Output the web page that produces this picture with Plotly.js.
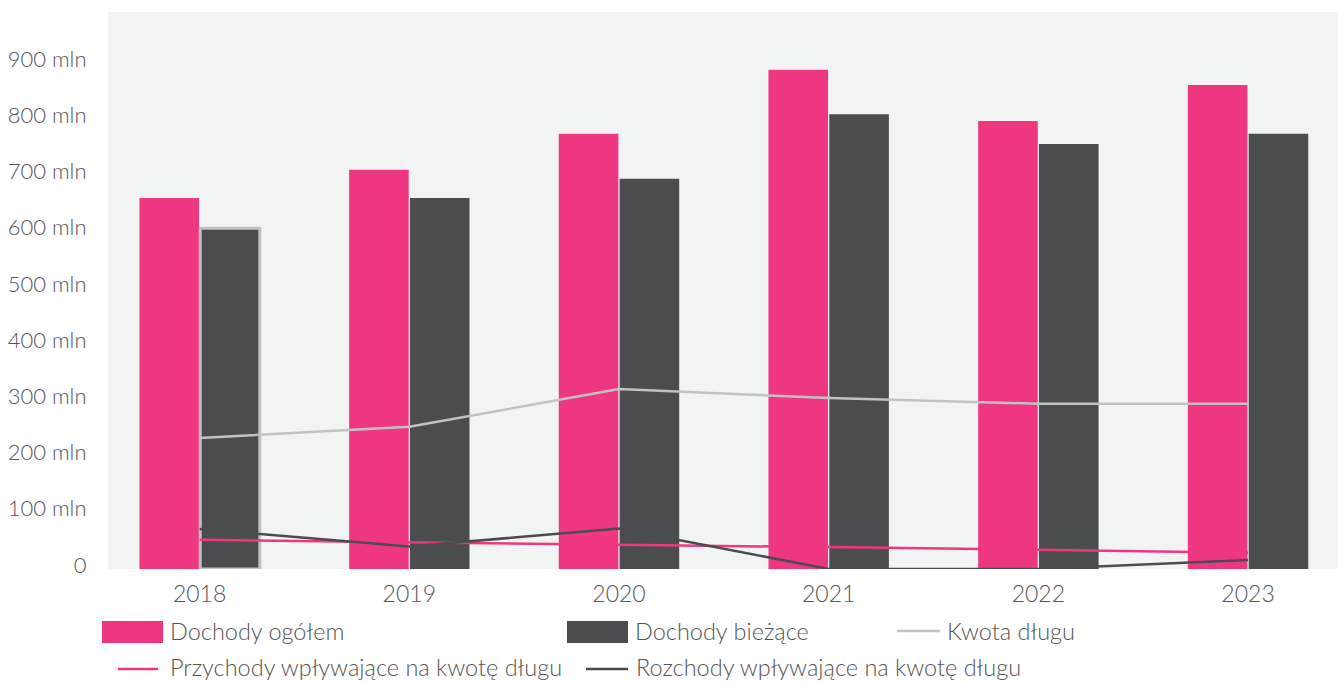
<!DOCTYPE html>
<html>
<head>
<meta charset="utf-8">
<script src="https://cdn.plot.ly/plotly-3.0.1.min.js"></script>
<style>
  html, body { margin: 0; padding: 0; background: #ffffff; }
  #chart { width: 1338px; height: 682px; }
</style>
</head>
<body>
<div id="chart"></div>
<script>
// ---- data ----
const years = ['2018', '2019', '2020', '2021', '2022', '2023'];
const dochodyOgolem = [660, 710, 774, 888, 797, 861];
const dochodyBiezace = [606, 660, 694, 809, 756, 774];
const kwotaDlugu = [233, 253, 320, 304, 294, 294];
const przychody = [52, 47, 43, 39, 34, 29];
const rozchody = [71, 40, 72, 0, 0, 16];
const yTickVals = [0, 100, 200, 300, 400, 500, 600, 700, 800, 900];
const yTickText = ['0', '100 mln', '200 mln', '300 mln', '400 mln', '500 mln', '600 mln', '700 mln', '800 mln', '900 mln'];
const legendNames = ['Dochody ogółem', 'Dochody bieżące', 'Kwota długu',
                     'Przychody wpływające na kwotę długu', 'Rozchody wpływające na kwotę długu'];

// ---- styles ----
const PINK = '#ef3781';
const DARK = '#4b4c4e';
const LIGHT = '#c2c2c2';
const TXT = '#555555';
const FONT = 'Lato, "Open Sans", sans-serif';

// plot-area geometry (pixels)
const L = 108, R = 1338, T = 12, B = 569, W = 1338, H = 682;
const px = x => (x - L) / (R - L);
const py = y => (B - y) / (B - T);

const traces = [
  { type: 'bar', x: years, y: dochodyOgolem, name: legendNames[0],
    marker: { color: PINK } },
  { type: 'bar', x: years, y: dochodyBiezace, name: legendNames[1],
    marker: { color: DARK, line: { color: LIGHT, width: [3, 0, 0, 0, 0, 0] } } },
  { type: 'scatter', mode: 'lines', x: years, y: kwotaDlugu, name: legendNames[2],
    line: { color: LIGHT, width: 2.5 } },
  { type: 'scatter', mode: 'lines', x: years, y: przychody, name: legendNames[3],
    line: { color: PINK, width: 2.5 } },
  { type: 'scatter', mode: 'lines', x: years, y: rozchody, name: legendNames[4],
    line: { color: DARK, width: 2.5 } }
];

// custom legend
const shapes = [
  { type: 'rect', xref: 'paper', yref: 'paper', x0: px(102), x1: px(163), y0: py(621), y1: py(643),
    fillcolor: PINK, line: { width: 0 } },
  { type: 'rect', xref: 'paper', yref: 'paper', x0: px(567), x1: px(628), y0: py(621), y1: py(643),
    fillcolor: DARK, line: { width: 0 } },
  { type: 'line', xref: 'paper', yref: 'paper', x0: px(897), x1: px(940), y0: py(631), y1: py(631),
    line: { color: LIGHT, width: 2.5 } },
  { type: 'line', xref: 'paper', yref: 'paper', x0: px(118), x1: px(158), y0: py(669), y1: py(669),
    line: { color: PINK, width: 2.5 } },
  { type: 'line', xref: 'paper', yref: 'paper', x0: px(586), x1: px(628), y0: py(669), y1: py(669),
    line: { color: DARK, width: 2.5 } }
];
const legPos = [[168, 631], [633, 631], [945, 631], [168, 667], [634, 667]];
const annotations = legendNames.map((t, i) => ({
  xref: 'paper', yref: 'paper', x: px(legPos[i][0]), y: py(legPos[i][1]),
  xanchor: 'left', yanchor: 'middle', showarrow: false, text: t,
  font: { family: FONT, size: 23.5, color: TXT, weight: 300 }
}));

const layout = {
  width: W, height: H,
  margin: { l: L, r: W - R, t: T, b: H - B, pad: 0 },
  paper_bgcolor: '#ffffff',
  plot_bgcolor: '#f2f4f4',
  showlegend: false,
  barmode: 'group',
  bargap: 0.42,
  bargroupgap: 0.02,
  font: { family: FONT, size: 22, color: TXT, weight: 300 },
  xaxis: {
    type: 'category',
    range: [-0.437, 5.429],
    showgrid: false, zeroline: false, showline: false,
    ticks: 'outside', ticklen: 4, tickcolor: 'rgba(0,0,0,0)',
    tickfont: { family: FONT, size: 23, color: TXT, weight: 300 }
  },
  yaxis: {
    range: [0, 990.7],
    showgrid: false, zeroline: false, showline: false,
    tickvals: yTickVals, ticktext: yTickText,
    ticks: 'outside', ticklen: 16, tickcolor: 'rgba(0,0,0,0)',
    ticklabelshift: -4,
    tickfont: { family: FONT, size: 22, color: TXT, weight: 300 }
  },
  shapes: shapes,
  annotations: annotations
};

Plotly.newPlot('chart', traces, layout, { displayModeBar: false, staticPlot: true });
</script>
</body>
</html>
